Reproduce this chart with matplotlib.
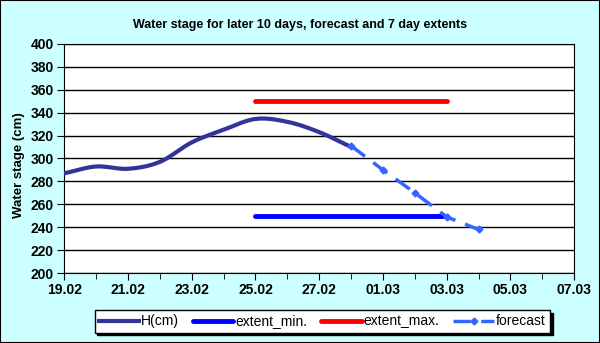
import numpy as np
import pandas as pd
import matplotlib
matplotlib.use("Agg")
import matplotlib.pyplot as plt
import matplotlib.dates as mdates

plt.rcParams['font.family'] = ['Liberation Sans', 'DejaVu Sans']

h_dates = pd.date_range('2023-02-19', '2023-02-28', freq='D')
h_cm = [287, 293, 291, 297, 314, 325, 334.5, 332, 323, 310]

fc_dates = pd.date_range('2023-02-28', '2023-03-04', freq='D')
fc_cm = [311, 290, 270, 249, 238]

ext_dates = pd.to_datetime(['2023-02-25', '2023-03-03'])
ext_min = [250, 250]
ext_max = [350, 350]


def smooth(x, y, n=20):
    # catmull-rom through the given points, like a spreadsheet "smoothed line"
    x = np.asarray(x, float)
    y = np.asarray(y, float)
    px = np.r_[2 * x[0] - x[1], x, 2 * x[-1] - x[-2]]
    py = np.r_[2 * y[0] - y[1], y, 2 * y[-1] - y[-2]]
    t = np.linspace(0, 1, n)
    xs, ys = [], []
    for i in range(1, len(px) - 2):
        for p, out in ((px, xs), (py, ys)):
            p0, p1, p2, p3 = p[i - 1], p[i], p[i + 1], p[i + 2]
            out.extend(0.5 * (2 * p1 + (-p0 + p2) * t
                              + (2 * p0 - 5 * p1 + 4 * p2 - p3) * t ** 2
                              + (-p0 + 3 * p1 - 3 * p2 + p3) * t ** 3))
    return np.array(xs), np.array(ys)


fig = plt.figure(figsize=(6, 3.43), dpi=100, facecolor='#ccffff')
fig.patches.append(plt.Rectangle((0, 0), 1, 1, transform=fig.transFigure,
                                 fill=False, edgecolor='black', lw=1.5))
ax = fig.add_axes([0.107, 0.204, 0.85, 0.668])

hx, hy = smooth(mdates.date2num(h_dates), h_cm)
ax.plot(hx, hy, color='#333399', lw=3, label='H(cm)', zorder=3)
ax.plot(ext_dates, ext_min, color='#0000ff', lw=3.5, label='extent_min.',
        solid_capstyle='round', zorder=3)
ax.plot(ext_dates, ext_max, color='#ff0000', lw=3.5, label='extent_max.',
        solid_capstyle='round', zorder=3)
ax.plot(fc_dates, fc_cm, color='#3366ff', lw=2.5, ls=(0, (5, 3)),
        marker='D', ms=3.5, label='forecast', zorder=4)

ax.set_xlim(mdates.date2num(pd.Timestamp('2023-02-19')),
            mdates.date2num(pd.Timestamp('2023-03-07')))
ax.set_ylim(200, 400)
ax.set_yticks(np.arange(200, 401, 20))
ax.xaxis.set_major_locator(mdates.DayLocator(bymonthday=[19, 21, 23, 25, 27, 1, 3, 5, 7]))
ax.xaxis.set_minor_locator(mdates.DayLocator())
ax.xaxis.set_major_formatter(mdates.DateFormatter('%d.%m'))
ax.grid(axis='y', color='black', lw=1)
ax.set_axisbelow(True)
ax.tick_params(axis='both', which='both', direction='out', color='black')
ax.tick_params(which='major', length=5, labelsize=10, pad=2.5)
ax.tick_params(which='minor', length=4)
for lbl in ax.get_xticklabels() + ax.get_yticklabels():
    lbl.set_fontweight('bold')
for s in ax.spines.values():
    s.set_color('black')

ax.set_ylabel('Water stage (cm)', fontsize=9.5, fontweight='bold')
ax.yaxis.set_label_coords(-0.077, 0.47)
fig.suptitle('Water stage for later 10 days, forecast and 7 day extents',
             fontsize=9, fontweight='bold', y=0.945)

leg = fig.legend(loc='lower center', bbox_to_anchor=(0.537, 0.01), ncol=4,
                 frameon=True, fancybox=False,
                 shadow={'color': 'black', 'alpha': 1}, fontsize=10,
                 handlelength=2.9, columnspacing=1.0, handletextpad=0.15,
                 borderpad=0.3, edgecolor='black')
leg.get_frame().set_linewidth(1)

fig.savefig('out.png', dpi=100, facecolor=fig.get_facecolor())
